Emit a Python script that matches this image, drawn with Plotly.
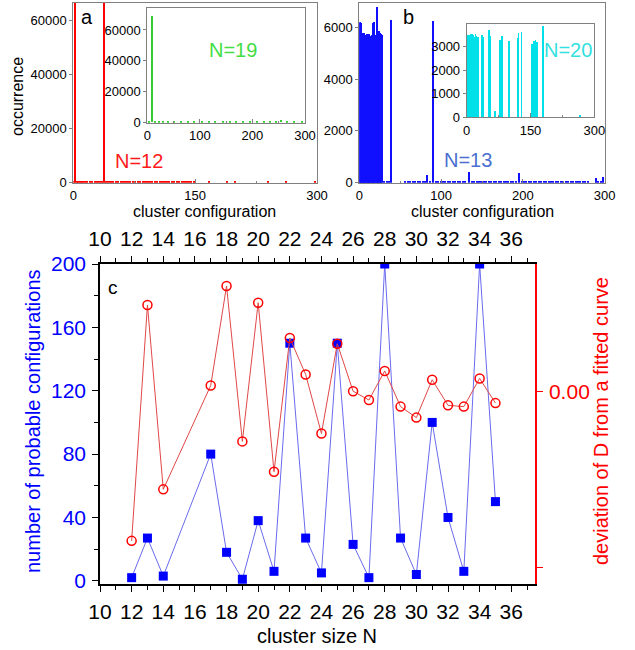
import plotly.graph_objects as go

W, H = 635, 650

# ---------------- data ----------------
# panel a, main: N=12 (configuration index, occurrence)
n12_cfg = [1, 3, 5, 7, 10, 12, 15, 18, 21, 24, 27, 30, 33, 36, 38, 41, 44, 47, 50, 53, 56, 59, 62, 65,
           68, 71, 74, 77, 80, 83, 86, 89, 92, 95, 98, 101, 104, 107, 110, 113, 116, 119, 122, 125,
           128, 131, 134, 137, 140, 143, 146, 149, 168, 190, 200, 240, 262, 298]
n12_occ = [600, 68000, 500, 400, 700, 300, 500, 600, 400, 300, 500, 600, 400, 500, 68000, 600, 300, 500,
           400, 700, 500, 300, 400, 600, 500, 300, 400, 500, 600, 300, 400, 500, 700, 400, 300, 500,
           600, 400, 500, 300, 600, 400, 500, 300, 400, 600, 300, 500, 400, 300, 500, 600, 400, 300,
           500, 400, 300, 700]

# panel a, inset: N=19
n19_cfg = [3, 9, 15, 22, 30, 40, 52, 64, 78, 90, 105, 118, 130, 145, 158, 170, 182, 196, 210, 222,
           234, 246, 255, 266, 280, 294]
n19_occ = [400, 69000, 500, 300, 400, 500, 300, 400, 500, 400, 300, 500, 400, 300, 500, 400, 300, 500,
           400, 300, 500, 400, 1800, 400, 300, 500]

# panel b, main: N=13
n13_cfg = [1, 2, 3, 4, 5, 6, 7, 8, 9, 10, 11, 12, 13, 14, 15, 16, 17, 18, 19, 20, 21, 22, 23, 24, 25,
           26, 27, 28, 31, 34, 37, 40, 57, 60, 63, 66, 69, 72, 75, 78, 81, 84, 87, 91, 94, 97, 100, 103,
           106, 109, 112, 115, 118, 121, 124, 127, 130, 135, 138, 141, 144, 147, 150, 153, 156, 159,
           162, 165, 168, 171, 174, 177, 180, 183, 186, 189, 192, 196, 199, 202, 205, 208, 211, 214,
           217, 220, 223, 226, 229, 232, 235, 238, 241, 244, 247, 250, 253, 256, 259, 262, 265, 268,
           271, 274, 277, 280, 290, 293, 296, 299]
n13_occ = [6200, 6150, 6180, 5700, 5800, 5780, 5750, 60, 5700, 5750, 5650, 5700, 5750, 5550, 5650, 5700,
           5800, 6150, 6200, 5700, 5650, 6800, 5700, 5650, 5850, 5800, 5750, 5700, 60, 50, 70, 6300,
           60, 50, 70, 60, 50, 60, 70, 50, 60, 300, 60, 6250, 50, 60, 70, 50, 60, 50, 70, 60, 50, 60,
           70, 50, 60, 420, 50, 60, 70, 50, 60, 50, 70, 60, 50, 60, 70, 50, 60, 50, 70, 60, 50, 60, 70,
           390, 60, 50, 70, 60, 50, 60, 70, 50, 60, 50, 70, 60, 50, 60, 70, 50, 60, 50, 70, 60, 50, 60,
           70, 50, 60, 50, 70, 60, 200, 70, 60, 210]

# panel b, inset: N=20
n20_cfg = [0, 1, 2, 3, 4, 5, 7, 8, 9, 10, 11, 12, 13, 14, 15, 17, 18, 19, 20, 21, 22, 24, 25, 26, 27,
           35, 39, 51, 55, 66, 78, 82, 99, 119, 121, 128, 153, 157, 161, 164, 178, 265]
n20_occ = [3450, 3500, 3450, 3300, 3400, 3500, 3350, 3480, 3520, 3450, 3550, 3500, 3400, 3480, 3450,
           3300, 3420, 3350, 3520, 3450, 3300, 3350, 3400, 3300, 3100, 3500, 3400, 3700, 3450, 250,
           3300, 3450, 3240, 3350, 3600, 3640, 3130, 3250, 3280, 3200, 3880, 100]

# panel c
cluster_N = [12, 13, 14, 17, 18, 19, 20, 21, 22, 23, 24, 25, 26, 27, 28, 29, 30, 31, 32, 33, 34, 35]
num_probable = [2, 27, 3, 80, 18, 1, 38, 6, 150, 27, 5, 150, 23, 2, 200, 27, 4, 100, 40, 6, 200, 50]
deviation_D = [-0.0339, 0.0197, -0.0222, 0.0014, 0.0240, -0.0113, 0.0202, -0.0182, 0.0122, 0.0039,
               -0.0095, 0.0109, 0.0001, -0.0019, 0.0047, -0.0034, -0.0059, 0.0027, -0.0031, -0.0034,
               0.0030, -0.0026]
c_ticks = list(range(10, 37, 2))
left_ticks = [0, 40, 80, 120, 160, 200]

FONT = "Liberation Sans, Arial, sans-serif"


def px_x(p):
    return p / W


def px_y(p):
    return 1 - p / H


fig = go.Figure()

fig.add_trace(go.Bar(x=n12_cfg, y=n12_occ, width=2, marker=dict(color="#ff0000", line_width=0),
                     xaxis="x", yaxis="y", showlegend=False))
fig.add_trace(go.Bar(x=n19_cfg, y=n19_occ, width=2, marker=dict(color="#33cc33", line_width=0),
                     xaxis="x2", yaxis="y2", showlegend=False))
fig.add_trace(go.Bar(x=n13_cfg, y=n13_occ, width=1.8, marker=dict(color="#1010ff", line_width=0),
                     xaxis="x3", yaxis="y3", showlegend=False))
fig.add_trace(go.Bar(x=n20_cfg, y=n20_occ, width=1.8, marker=dict(color="#00e0e8", line_width=0),
                     xaxis="x4", yaxis="y4", showlegend=False))

fig.add_trace(go.Scatter(x=cluster_N, y=num_probable, mode="lines+markers",
                         line=dict(color="#6a6aee", width=1),
                         marker=dict(symbol="square", size=9, color="#0000ff"),
                         xaxis="x5", yaxis="y5", showlegend=False))
fig.add_trace(go.Scatter(x=cluster_N, y=deviation_D, mode="lines+markers",
                         line=dict(color="#e04848", width=1),
                         marker=dict(symbol="circle-open", size=9, color="#ff0000", line=dict(width=1.5)),
                         xaxis="x5", yaxis="y6", showlegend=False))
fig.add_trace(go.Scatter(x=cluster_N, y=num_probable, mode="none", hoverinfo="skip",
                         xaxis="x6", yaxis="y5", showlegend=False))

GRAY = "#808080"


def hist_x(domain, anchor, tickvals, minor_dtick):
    return dict(domain=domain, anchor=anchor, range=[0, 300], tickvals=tickvals, automargin=False,
                ticks="inside", ticklen=4, tickcolor=GRAY,
                minor=dict(dtick=minor_dtick, tick0=0, ticks="inside", ticklen=2, tickcolor=GRAY),
                showline=True, linecolor=GRAY, linewidth=1, mirror=True,
                showgrid=False, zeroline=False,
                tickfont=dict(family=FONT, size=13, color="black"), ticklabelstandoff=1)


def hist_y(domain, anchor, rng, dtick):
    return dict(domain=domain, anchor=anchor, range=rng, dtick=dtick, tick0=0, tickformat="d",
                automargin=False,
                ticks="outside", ticklen=3, tickcolor=GRAY,
                showline=True, linecolor=GRAY, linewidth=1, mirror=True,
                showgrid=False, zeroline=False,
                tickfont=dict(family=FONT, size=13, color="black"), ticklabelstandoff=0)


layout = dict(
    template="none",
    width=W, height=H, margin=dict(l=0, r=0, t=0, b=0, pad=0), autosize=False,
    paper_bgcolor="white", plot_bgcolor="white", bargap=0,
    font=dict(family=FONT),
    xaxis=hist_x([px_x(73.3), px_x(317)], "y", [0, 150, 300], 75),
    yaxis=hist_y([px_y(182.7), px_y(3)], "x", [0, 66500], 20000),
    xaxis2=hist_x([px_x(147.3), px_x(305)], "y2", [0, 100, 200, 300], 50),
    yaxis2=hist_y([px_y(122.7), px_y(8.3)], "x2", [0, 74000], 20000),
    xaxis3=hist_x([px_x(359.3), px_x(604.7)], "y3", [0, 100, 200, 300], 50),
    yaxis3=hist_y([px_y(182.7), px_y(3)], "x3", [0, 6940], 2000),
    xaxis4=hist_x([px_x(466.7), px_x(594.3)], "y4", [0, 150, 300], 75),
    yaxis4=hist_y([px_y(117.3), px_y(24)], "x4", [0, 3965], 1000),
    xaxis5=dict(domain=[px_x(100), px_x(535)], anchor="y5", range=[10, 37.5], tickvals=c_ticks,
                automargin=False,
                ticks="outside", ticklen=6, tickcolor="black",
                minor=dict(dtick=1, tick0=10, ticks="outside", ticklen=4, tickcolor="black"),
                showline=True, linecolor="black", linewidth=1.5, showgrid=False, zeroline=False,
                tickfont=dict(family=FONT, size=21, color="black"), ticklabelstandoff=2),
    xaxis6=dict(overlaying="x5", anchor="y5", side="top", range=[10, 37.5], tickvals=c_ticks,
                automargin=False,
                ticks="outside", ticklen=6, tickcolor="black",
                minor=dict(dtick=1, tick0=10, ticks="outside", ticklen=4, tickcolor="black"),
                showline=True, linecolor="black", linewidth=1.5, showgrid=False, zeroline=False,
                tickfont=dict(family=FONT, size=21, color="black"), ticklabelstandoff=2),
    yaxis5=dict(domain=[px_y(584), px_y(264)], anchor="x5", range=[-2, 200], tickvals=left_ticks,
                automargin=False,
                ticks="outside", ticklen=6, tickcolor="black",
                minor=dict(dtick=20, tick0=0, ticks="outside", ticklen=4, tickcolor="black"),
                showline=True, linecolor="black", linewidth=1.5, showgrid=False, zeroline=False,
                tickfont=dict(family=FONT, size=21, color="#0000ff"), ticklabelstandoff=2),
    yaxis6=dict(overlaying="y5", anchor="x5", side="right", range=[-0.0437, 0.0290],
                tickvals=[-0.04, 0.0], ticktext=["", "0.00"], automargin=False,
                ticks="outside", ticklen=6, tickcolor="#ff0000",
                showline=True, linecolor="#ff0000", linewidth=1.5, showgrid=False, zeroline=False,
                tickfont=dict(family=FONT, size=21, color="#ff0000"), ticklabelstandoff=2),
)
fig.update_layout(**layout)


def note(text, x, y, size, color="black", angle=0):
    fig.add_annotation(text=text, x=px_x(x), y=px_y(y), xref="paper", yref="paper",
                       showarrow=False, textangle=angle, xanchor="center", yanchor="middle",
                       font=dict(family=FONT, size=size, color=color))


note("occurrence", 17, 97, 16, angle=-90)
note("cluster configuration", 204, 212, 16)
note("cluster configuration", 482, 211, 16)
note("a", 87, 17, 20)
note("b", 408, 17, 20)
note("N=12", 139, 161, 20, "#ff1a1a")
note("N=19", 233, 50, 20, "#44dd44")
note("N=13", 468, 160, 20, "#4a6fd0")
note("N=20", 568, 50, 20, "#33e0e0")
note("c", 113, 287, 19)
note("cluster size N", 317, 636, 20)
note("number of probable configurations", 33, 421, 20, "#0000ff", angle=-90)
note("deviation of D from a fitted curve", 601, 421, 20, "#ff0000", angle=-90)

fig.write_html("out.html", config={"displayModeBar": False},
               post_script="document.body.style.margin='0';")
